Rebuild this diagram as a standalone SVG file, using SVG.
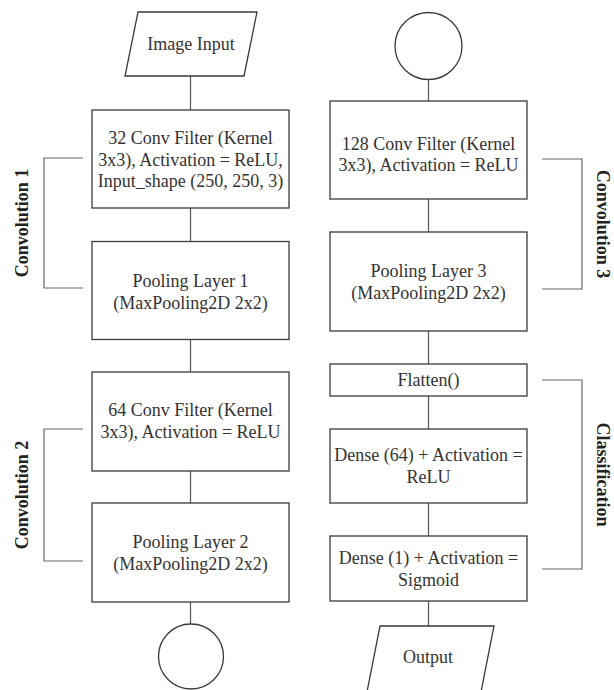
<svg xmlns="http://www.w3.org/2000/svg" width="614" height="690" viewBox="0 0 614 690">
<style>
.box{fill:#fff;stroke:#3a3a3a;stroke-width:1.3}
.con{fill:none;stroke:#555;stroke-width:1.2}
.brk{fill:none;stroke:#666;stroke-width:1.2}
.t{font-family:"Liberation Serif","Times New Roman",serif;font-size:18px;fill:#333;text-anchor:middle}
.lab{font-family:"Liberation Serif","Times New Roman",serif;font-size:18px;font-weight:bold;fill:#222;text-anchor:middle}
</style>
<rect width="614" height="690" fill="#fff"/>
<g id="connectors">
<line class="con" x1="190.5" y1="76" x2="190.5" y2="110"/>
<line class="con" x1="190.5" y1="208" x2="190.5" y2="241.5"/>
<line class="con" x1="190.5" y1="339.5" x2="190.5" y2="372"/>
<line class="con" x1="190.5" y1="471" x2="190.5" y2="503"/>
<line class="con" x1="190.5" y1="602" x2="190.5" y2="624"/>
<line class="con" x1="428.5" y1="79.5" x2="428.5" y2="101"/>
<line class="con" x1="428.5" y1="199" x2="428.5" y2="232"/>
<line class="con" x1="428.5" y1="331" x2="428.5" y2="364"/>
<line class="con" x1="428.5" y1="396" x2="428.5" y2="429"/>
<line class="con" x1="428.5" y1="503" x2="428.5" y2="536"/>
<line class="con" x1="428.5" y1="601" x2="428.5" y2="626"/>
</g>
<g id="brackets">
<polyline class="brk" points="83,158 44,158 44,288 83,288"/>
<polyline class="brk" points="83,429 44,429 44,561 83,561"/>
<polyline class="brk" points="542,159 582,159 582,289 542,289"/>
<polyline class="brk" points="542,380 582,380 582,569 542,569"/>
</g>
<g id="image-input">
<polygon class="box" points="138,12 257,12 244,76 125,76"/>
<text class="t" x="191" y="50">Image Input</text>
</g>
<g id="conv1">
<rect class="box" x="92" y="110" width="197" height="98"/>
<text class="t" x="190.5" y="144">32 Conv Filter (Kernel</text>
<text class="t" x="190.5" y="165.5">3x3), Activation = ReLU,</text>
<text class="t" x="190.5" y="187">Input_shape (250, 250, 3)</text>
</g>
<g id="pool1">
<rect class="box" x="92" y="241.5" width="197" height="98"/>
<text class="t" x="190.5" y="287">Pooling Layer 1</text>
<text class="t" x="190.5" y="308.5">(MaxPooling2D 2x2)</text>
</g>
<g id="conv2">
<rect class="box" x="92" y="372" width="197" height="99"/>
<text class="t" x="190.5" y="416">64 Conv Filter (Kernel</text>
<text class="t" x="190.5" y="438">3x3), Activation = ReLU</text>
</g>
<g id="pool2">
<rect class="box" x="92" y="503" width="197" height="99"/>
<text class="t" x="190.5" y="548">Pooling Layer 2</text>
<text class="t" x="190.5" y="570">(MaxPooling2D 2x2)</text>
</g>
<g id="connector-a">
<circle class="box" cx="191" cy="656.5" r="32.5"/>
</g>
<g id="connector-b">
<circle class="box" cx="428.5" cy="46" r="33.5"/>
</g>
<g id="conv3">
<rect class="box" x="330" y="101" width="197" height="98"/>
<text class="t" x="428.5" y="150">128 Conv Filter (Kernel</text>
<text class="t" x="428.5" y="171">3x3), Activation = ReLU</text>
</g>
<g id="pool3">
<rect class="box" x="330" y="232" width="197" height="99"/>
<text class="t" x="428.5" y="277">Pooling Layer 3</text>
<text class="t" x="428.5" y="298.5">(MaxPooling2D 2x2)</text>
</g>
<g id="flatten">
<rect class="box" x="330" y="364" width="197" height="32"/>
<text class="t" x="428.5" y="386">Flatten()</text>
</g>
<g id="dense64">
<rect class="box" x="330" y="429" width="197" height="74"/>
<text class="t" x="428.5" y="461">Dense (64) + Activation =</text>
<text class="t" x="428.5" y="483">ReLU</text>
</g>
<g id="dense1">
<rect class="box" x="330" y="536" width="197" height="65"/>
<text class="t" x="428.5" y="564">Dense (1) + Activation =</text>
<text class="t" x="428.5" y="585.5">Sigmoid</text>
</g>
<g id="output">
<polygon class="box" points="380,626 494,626 481,692 367,692"/>
<text class="t" x="428" y="663">Output</text>
</g>
<g id="labels">
<text class="lab" transform="translate(28,223) rotate(-90)">Convolution 1</text>
<text class="lab" transform="translate(28,495) rotate(-90)">Convolution 2</text>
<text class="lab" transform="translate(597,224) rotate(90)">Convolution 3</text>
<text class="lab" transform="translate(597,474.5) rotate(90)">Classification</text>
</g>
</svg>
